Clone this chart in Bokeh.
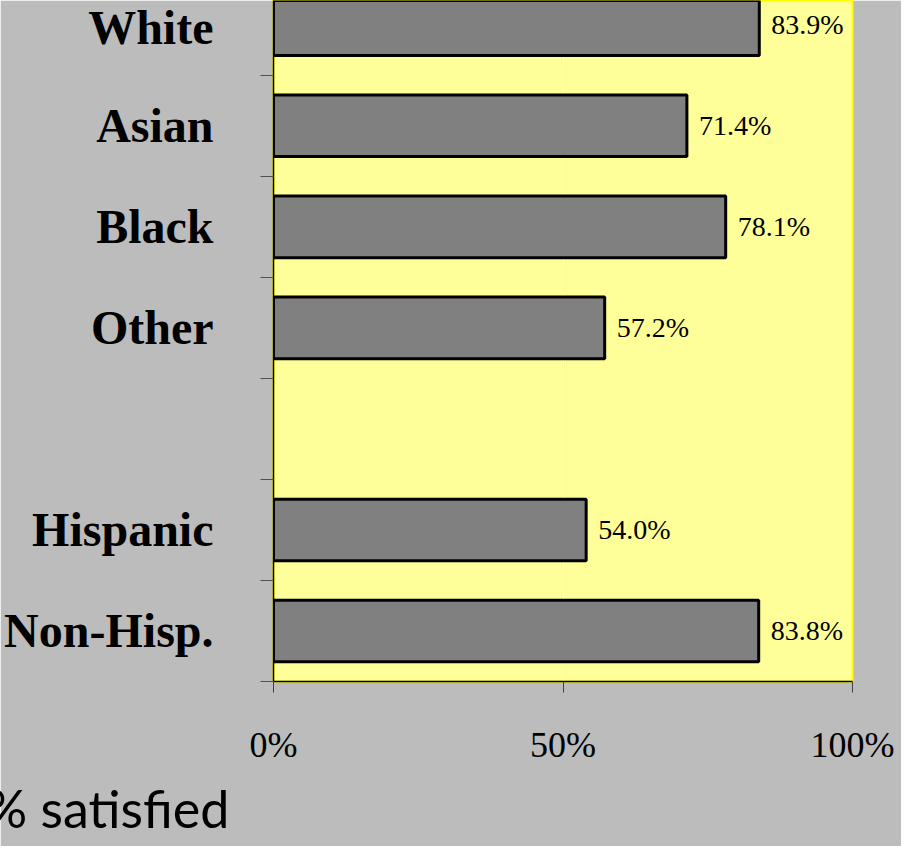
from bokeh.plotting import figure
from bokeh.models import Range1d, FixedTicker, ColumnDataSource, Title
from bokeh.embed import file_html
from bokeh.resources import INLINE

# ---- data ----
categories = ["White", "Asian", "Black", "Other", "", "Hispanic", "Non-Hisp."]
values = [83.9, 71.4, 78.1, 57.2, None, 54.0, 83.8]
x_ticks = [0, 50, 100]
x_tick_labels = {0: "0%", 50: "50%", 100: "100%"}
footer_text = "% satisfied"

n = len(categories)
centers = [n - i - 0.5 for i in range(n)]

bar_y = [c for c, v in zip(centers, values) if v is not None]
bar_v = [v for v in values if v is not None]
bar_txt = [f"{v:.1f}%" for v in bar_v]
src = ColumnDataSource(dict(y=bar_y, v=bar_v, txt=bar_txt))

label_ticks = [c for c, name in zip(centers, categories) if name]
label_map = {c: name for c, name in zip(centers, categories) if name}

W, H = 901, 846
p = figure(width=W, height=H, output_backend="svg", toolbar_location=None,
           x_range=Range1d(0, 100), y_range=Range1d(0, 6.74),
           min_border_left=273, min_border_right=49, min_border_top=0,
           min_border_bottom=165, title=None)

p.background_fill_color = "#ffff99"
p.border_fill_color = "#bcbcbc"
p.outline_line_color = "#ffff00"
p.outline_line_width = 2

p.hbar(y="y", left=0, right="v", height=0.61, source=src,
       fill_color="#808080", line_color="black", line_width=3)

p.text(x="v", y="y", text="txt", source=src, x_offset=12,
       text_align="left", text_baseline="middle",
       text_font="Liberation Serif", text_font_size="28px", text_color="black")

# x axis
xa = p.xaxis[0]
xa.ticker = FixedTicker(ticks=x_ticks)
xa.major_label_overrides = x_tick_labels
xa.major_label_text_font = "Liberation Serif"
xa.major_label_text_font_size = "36px"
xa.major_label_text_color = "black"
xa.major_label_standoff = 32
xa.major_tick_out = 11
xa.major_tick_in = 0
xa.major_tick_line_color = "#404040"
xa.minor_tick_line_color = None
xa.axis_line_color = "black"
xa.axis_line_width = 1.5

# y axis: labels at slot centres, tick marks (minor) at slot boundaries
ya = p.yaxis[0]
ya.ticker = FixedTicker(ticks=label_ticks, minor_ticks=list(range(0, n + 1)))
ya.major_label_overrides = label_map
ya.major_label_text_font = "Liberation Serif"
ya.major_label_text_font_style = "bold"
ya.major_label_text_font_size = "48px"
ya.major_label_text_color = "black"
ya.major_label_standoff = 47
ya.major_tick_out = 0
ya.major_tick_in = 0
ya.major_tick_line_color = None
ya.minor_tick_out = 13
ya.minor_tick_in = 0
ya.minor_tick_line_color = "#505050"
ya.axis_line_color = "black"
ya.axis_line_width = 1.5

p.xgrid.ticker = FixedTicker(ticks=x_ticks)
p.xgrid.grid_line_color = "white"
p.xgrid.grid_line_width = 1
p.ygrid.grid_line_color = None

footer = Title(text=footer_text, align="left", offset=-288, standoff=14,
               text_font="Lato", text_font_size="52px",
               text_font_style="normal", text_color="black")
p.add_layout(footer, "below")

html = file_html(p, INLINE)
html = html.replace("<body>", '<body style="background-color:#bcbcbc">', 1)
open("out.html", "w").write(html)
